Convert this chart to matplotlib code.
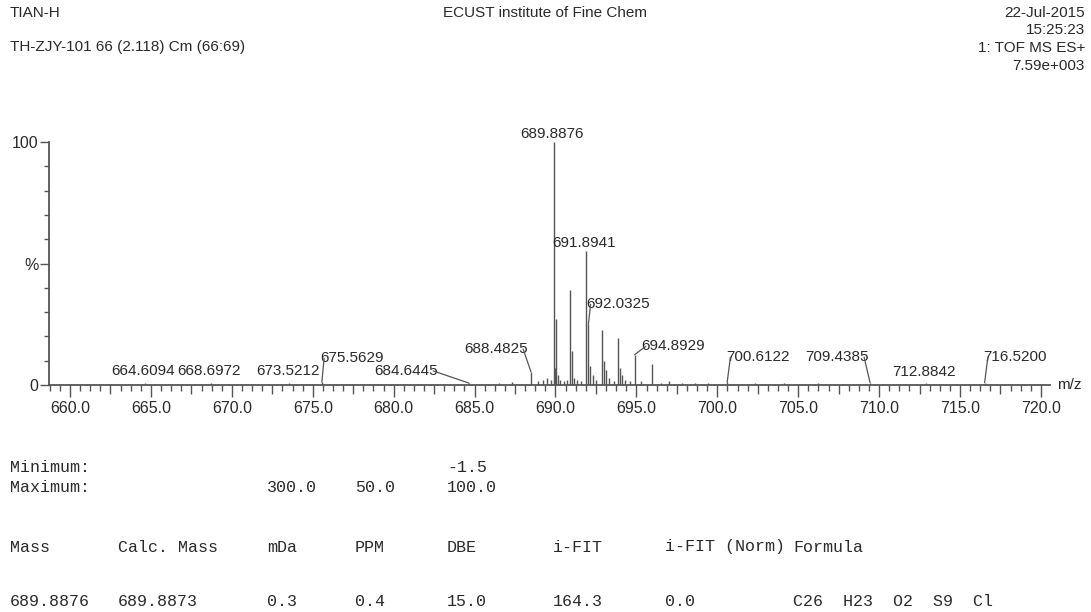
import matplotlib
matplotlib.use("Agg")
import matplotlib.pyplot as plt
from matplotlib.ticker import MultipleLocator, FixedLocator, FixedFormatter

SANS = ["Liberation Sans Narrow", "DejaVu Sans Condensed", "Liberation Sans"]
MONO = ["Liberation Mono", "DejaVu Sans Mono"]
INK = "#2a2a2a"
LINE = "#555555"
FS = 11

# spectrum: m/z and relative intensity (%)
peak_mz = [664.6094, 668.6972, 673.5212, 675.5629, 684.6445, 686.50, 687.30,
           688.4825, 688.90, 689.20, 689.50, 689.70, 689.8876, 689.95, 690.06,
           690.15, 690.30, 690.55, 690.72, 690.90, 691.03, 691.15, 691.30,
           691.60, 691.8941, 692.0325, 692.15, 692.30, 692.50, 692.86, 693.00,
           693.15, 693.30, 693.60, 693.86, 693.98, 694.10, 694.30, 694.60,
           694.8929, 695.30, 695.96, 696.50, 697.00, 697.80, 698.60, 699.40,
           700.6122, 702.30, 704.10, 706.20, 709.4385, 712.8842, 716.5200]
peak_int = [1.0, 1.0, 1.0, 1.2, 0.8, 1.0, 1.2,
            5.5, 1.5, 2.0, 2.8, 2.0, 100.0, 7.0, 27.0,
            4.0, 2.0, 1.5, 2.0, 39.0, 14.0, 3.0, 2.0,
            1.5, 55.0, 25.0, 8.0, 4.0, 2.0, 22.5, 10.0,
            6.0, 3.0, 1.5, 19.5, 7.0, 4.0, 2.0, 1.5,
            12.5, 1.5, 8.5, 1.0, 1.5, 1.0, 1.0, 0.8,
            1.2, 0.8, 0.8, 0.8, 1.0, 0.8, 1.0]

# labelled peaks and where their text sits (m/z, %)
label_mz = [664.6094, 668.6972, 673.5212, 675.5629, 684.6445, 688.4825,
            689.8876, 691.8941, 692.0325, 694.8929, 700.6122, 709.4385,
            712.8842, 716.5200]
label_pos = [(664.52, 4.3), (668.60, 4.3), (673.44, 4.3), (677.40, 9.5),
             (680.74, 4.3), (686.30, 13.3), (689.80, 101.6), (691.78, 56.8),
             (693.87, 31.7), (697.28, 14.4), (702.51, 10.0), (707.37, 10.0),
             (712.78, 3.8), (718.42, 10.0)]
leader = [False, False, False, True, True, True,
          False, False, True, True, True, True,
          False, True]

header_left = ["TIAN-H", "TH-ZJY-101 66 (2.118) Cm (66:69)"]
header_center = "ECUST institute of Fine Chem"
header_right = ["22-Jul-2015", "15:25:23", "1: TOF MS ES+", "7.59e+003"]

limit_rows = [("Minimum:", "", "", "", "-1.5"),
              ("Maximum:", "", "300.0", "50.0", "100.0")]
table_cols = ["Mass", "Calc. Mass", "mDa", "PPM", "DBE", "i-FIT",
              "i-FIT (Norm)", "Formula"]
table_row = ["689.8876", "689.8873", "0.3", "0.4", "15.0", "164.3", "0.0",
             "C26  H23  O2  S9  Cl"]


def main():
    W, H = 1091, 612
    fig = plt.figure(figsize=(W / 100, H / 100), dpi=100)
    ax = fig.add_axes([49 / W, (H - 385) / H, (1050 - 49) / W, 243 / H])

    ax.vlines(peak_mz, 0, peak_int, color=LINE, lw=1.0)

    heights = dict(zip(peak_mz, peak_int))
    for mz, (tx, ty), lead in zip(label_mz, label_pos, leader):
        ax.text(tx, ty, f"{mz:.4f}", ha="center", va="baseline",
                fontsize=FS, family=SANS, color=INK, clip_on=False)
        if lead:
            ax.annotate("", xy=(mz, heights[mz]),
                        xytext=(tx + (-1.7 if tx > mz else 1.7), ty + 1.5),
                        arrowprops=dict(arrowstyle="-", color=LINE, lw=0.9,
                                        shrinkA=0, shrinkB=0))

    ax.set_xlim(658.70, 720.56)
    ax.set_ylim(0, 100)
    for s in ("top", "right"):
        ax.spines[s].set_visible(False)
    for s in ("left", "bottom"):
        ax.spines[s].set_color(LINE)
        ax.spines[s].set_linewidth(1.3)

    ax.xaxis.set_major_locator(MultipleLocator(5))
    ax.xaxis.set_minor_locator(MultipleLocator(0.625))
    ax.xaxis.set_major_formatter(plt.FuncFormatter(lambda v, p: f"{v:.1f}"))
    ax.yaxis.set_major_locator(FixedLocator([0, 50, 100]))
    ax.yaxis.set_major_formatter(FixedFormatter(["0", "%", "100"]))
    ax.yaxis.set_minor_locator(MultipleLocator(10))
    ax.tick_params(axis="x", which="major", length=8.5, width=1, color=LINE, pad=3)
    ax.tick_params(axis="x", which="minor", length=4.5, width=1, color=LINE)
    ax.tick_params(axis="y", which="major", length=6.5, width=1, color=LINE, pad=1)
    ax.tick_params(axis="y", which="minor", length=3.5, width=1, color=LINE)

    # half-way ticks (every 2.5) a little longer than the rest
    for loc, tick in zip(ax.xaxis.get_minorticklocs(), ax.xaxis.get_minor_ticks()):
        if abs(loc / 2.5 - round(loc / 2.5)) < 1e-6:
            tick.tick1line.set_markersize(6.5)

    for lab in ax.get_xticklabels() + ax.get_yticklabels():
        lab.set_family(SANS)
        lab.set_fontsize(FS + 0.5)
        lab.set_color(INK)

    ax.text(1.007, 0.0, "m/z", transform=ax.transAxes, ha="left",
            va="center", fontsize=FS, family=SANS, color=INK)

    # header block
    fig.text(10 / W, 1 - 13 / H, header_left[0], ha="left", va="center",
             fontsize=FS, family=SANS, color=INK)
    fig.text(10 / W, 1 - 47 / H, header_left[1], ha="left", va="center",
             fontsize=FS, family=SANS, color=INK)
    fig.text(545 / W, 1 - 13 / H, header_center, ha="center", va="center",
             fontsize=FS, family=SANS, color=INK)
    for i, s in enumerate(header_right):
        fig.text(1085 / W, 1 - (13 + 17.5 * i) / H, s, ha="right",
                 va="center", fontsize=FS, family=SANS, color=INK)

    # composition report
    lim_x = [10, 118, 267, 355, 447]
    for row, y in zip(limit_rows, [468, 488]):
        for s, x in zip(row, lim_x):
            if s:
                fig.text(x / W, 1 - y / H, s, ha="left", va="center",
                         fontsize=12, family=MONO, color=INK)
    col_x = [10, 118, 267, 355, 447, 553, 665, 793]
    for s, x in zip(table_cols, col_x):
        fig.text(x / W, 1 - 547 / H, s, ha="left", va="center",
                 fontsize=12, family=MONO, color=INK)
    for s, x in zip(table_row, col_x):
        fig.text(x / W, 1 - 602 / H, s, ha="left", va="center",
                 fontsize=12, family=MONO, color=INK)

    fig.savefig("out.png", dpi=100, facecolor="white")


if __name__ == "__main__":
    main()
